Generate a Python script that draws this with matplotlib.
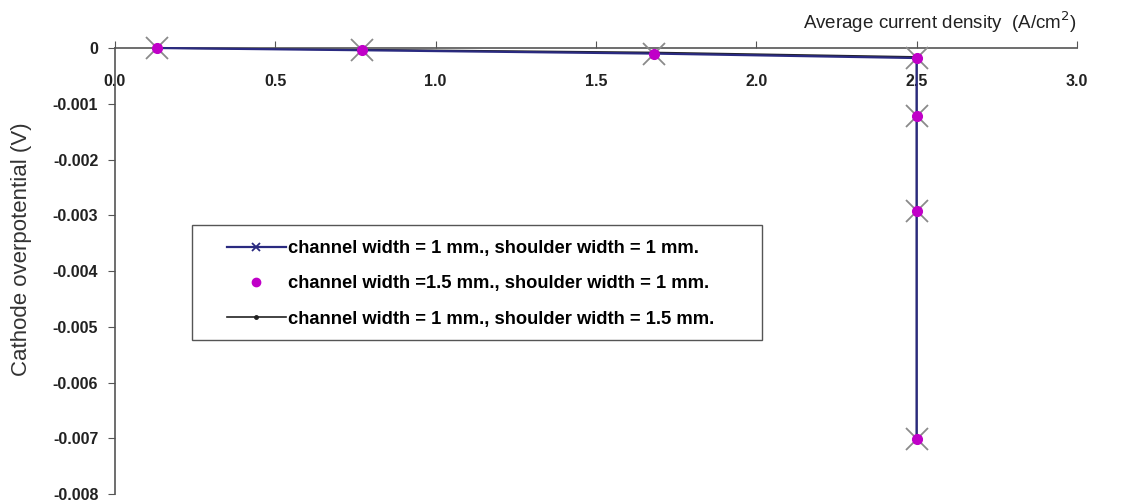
import matplotlib
matplotlib.use("Agg")
import matplotlib.pyplot as plt
from matplotlib.ticker import FuncFormatter, MultipleLocator
from matplotlib.patches import Rectangle

plt.rcParams['font.family'] = ['Liberation Sans', 'DejaVu Sans']

# data (A/cm2, V)
x1 = [0.13, 0.77, 1.68, 2.50, 2.50, 2.50, 2.50]
y1 = [0.0, -0.00004, -0.00010, -0.00018, -0.00122, -0.00292, -0.00702]
x2 = [0.13, 0.77, 1.68, 2.50, 2.50, 2.50, 2.50]
y2 = [0.0, -0.00004, -0.00010, -0.00018, -0.00122, -0.00292, -0.00702]
x3 = [0.13, 0.77, 1.68, 2.50, 2.50, 2.50, 2.50]
y3 = [0.0, -0.00003, -0.00008, -0.00016, -0.00120, -0.00290, -0.00700]

labels = ["channel width = 1 mm., shoulder width = 1 mm.",
          "channel width =1.5 mm., shoulder width = 1 mm.",
          "channel width = 1 mm., shoulder width = 1.5 mm."]

W, H = 1129, 501
fig = plt.figure(figsize=(W/100, H/100), dpi=100)
ax = fig.add_axes([115/W, 1-494/H, (1077-115)/W, (494-48)/H])

l3, = ax.plot(x3, y3, color='#222222', lw=1.2, marker='o', ms=2.5, zorder=2, clip_on=False)
l1, = ax.plot(x1, y1, color='#2a2a80', lw=1.6, marker='x', ms=16, mew=1.3,
              mec='#8a8a8a', zorder=3, clip_on=False)
l2, = ax.plot(x2, y2, ls='none', marker='o', ms=7, color='#c000c8', zorder=4, clip_on=False)

ax.set_xlim(0, 3.0)
ax.set_ylim(-0.008, 0)
ax.xaxis.set_major_locator(MultipleLocator(0.5))
ax.yaxis.set_major_locator(MultipleLocator(0.001))
ax.xaxis.set_major_formatter(FuncFormatter(lambda v, p: f"{v:.1f}"))
ax.yaxis.set_major_formatter(FuncFormatter(lambda v, p: "0" if abs(v) < 1e-12 else f"{v:.3f}"))

ax.spines['top'].set_visible(False)
ax.spines['right'].set_visible(False)
ax.spines['bottom'].set_position(('data', 0))
for s in ('left', 'bottom'):
    ax.spines[s].set_color('#555555')
    ax.spines[s].set_linewidth(1.2)

ax.tick_params(axis='x', direction='in', length=5, pad=19, labelsize=11.5, colors='#555555', labelcolor='#222222')
ax.tick_params(axis='y', direction='out', length=5, pad=7, labelsize=11.5, colors='#555555', labelcolor='#222222')
for t in ax.get_xticklabels() + ax.get_yticklabels():
    t.set_fontweight('bold')

ax.set_ylabel("Cathode overpotential (V)", fontsize=16, color='#333333')
ax.yaxis.set_label_coords(-(115-32)/962, 1-(249-48)/446)
fig.text(1077/W, 1-22/H, "Average current density  (A/cm$^2$)", ha='right', va='center',
         fontsize=13.5, color='#222222')

# legend box
box = Rectangle((192/W, 1-340/H), (762-192)/W, (340-225)/H, transform=fig.transFigure,
                facecolor='white', edgecolor='#555555', lw=1.0, zorder=4.5, clip_on=False)
ax.add_patch(box)

leg = ax.legend([l1, l2, l3], labels, loc='upper left',
                bbox_to_anchor=(227/W, 1-240/H), bbox_transform=fig.transFigure,
                prop={'weight': 'bold', 'size': 13.2},
                frameon=False, borderpad=0, labelspacing=1.0,
                handlelength=3.2, handletextpad=0.12, borderaxespad=0)
leg.set_zorder(6)
leg.legend_handles[1].set_markersize(6)
leg.legend_handles[0].set_markersize(6)
leg.legend_handles[0].set_markeredgecolor('#2a2a80')

fig.savefig("out.png", dpi=100)
